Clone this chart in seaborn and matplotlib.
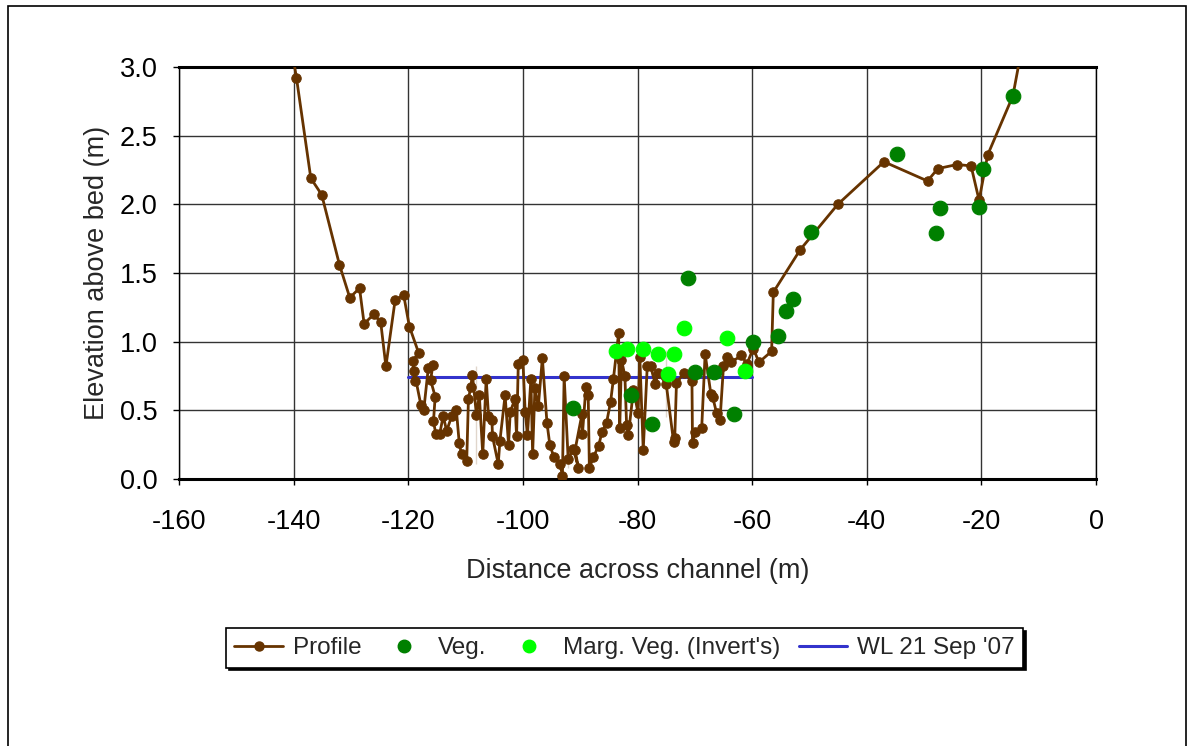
import pandas as pd
import matplotlib.pyplot as plt
import seaborn as sns
from matplotlib.lines import Line2D
from matplotlib.patches import Rectangle

# Cross-section profile (survey order)
profile_x = [-141.0, -139.5, -137.0, -135.1, -132.0, -130.2, -128.5, -127.7, -126.0, -124.8,
             -123.9, -122.3, -120.8, -119.8, -118.2, -119.2, -118.9, -119.0, -117.8, -117.3,
             -116.5, -115.7, -116.1, -115.3, -115.6, -115.2, -114.5, -113.9, -113.3, -112.4,
             -111.6, -111.1, -110.7, -109.8, -109.5, -109.1, -108.8, -108.1, -107.6, -108.1,
             -107.0, -106.4, -106.0, -105.4, -105.3, -104.3, -104.0, -103.1, -102.5, -102.2,
             -101.4, -101.1, -100.8, -100.0, -99.6, -99.2, -98.6, -98.3, -97.9, -97.3,
             -96.6, -95.8, -95.3, -94.6, -93.5, -93.1, -92.8, -92.1, -92.1, -91.2,
             -90.3, -90.9, -89.7, -89.6, -89.0, -88.6, -88.4, -87.7, -86.8, -86.2,
             -85.4, -84.7, -84.2, -83.3, -83.1, -82.8, -82.2, -81.9, -81.6, -80.7,
             -79.9, -79.6, -79.0, -78.3, -77.7, -76.9, -76.4, -75.0, -75.0, -73.7,
             -73.5, -73.2, -71.9, -70.5, -70.4, -70.0, -68.8, -68.2, -67.2, -66.9,
             -66.2, -65.6, -65.0, -64.4, -63.6, -61.9, -60.9, -59.8, -58.8, -56.6,
             -56.3, -51.6, -45.05, -37.0, -29.4, -27.6, -24.25, -21.8, -20.4, -18.9,
             -14.5, -12.0]
profile_y = [3.30, 2.92, 2.19, 2.07, 1.56, 1.32, 1.39, 1.13, 1.20, 1.14,
             0.82, 1.30, 1.34, 1.11, 0.92, 0.86, 0.71, 0.79, 0.54, 0.50,
             0.81, 0.83, 0.72, 0.60, 0.42, 0.33, 0.33, 0.46, 0.35, 0.46,
             0.50, 0.26, 0.18, 0.13, 0.58, 0.67, 0.76, 0.82, 0.61, 0.11,
             0.18, 0.73, 0.46, 0.43, 0.31, 0.11, 0.28, 0.61, 0.25, 0.49,
             0.58, 0.31, 0.84, 0.87, 0.49, 0.32, 0.73, 0.18, 0.66, 0.53,
             0.88, 0.41, 0.25, 0.16, 0.11, 0.02, 0.75, 0.21, 0.08, 0.22,
             0.08, 0.21, 0.47, 0.33, 0.67, 0.61, 0.08, 0.16, 0.24, 0.34,
             0.41, 0.56, 0.73, 1.06, 0.37, 0.87, 0.75, 0.39, 0.32, 0.65,
             0.48, 0.89, 0.21, 0.82, 0.82, 0.69, 0.77, 0.94, 0.45, 0.27,
             0.30, 0.70, 0.77, 0.71, 0.26, 0.34, 0.37, 0.91, 0.62, 0.60,
             0.48, 0.43, 0.82, 0.89, 0.85, 0.90, 0.84, 0.95, 0.85, 0.93,
             1.36, 1.67, 2.00, 2.31, 2.17, 2.26, 2.29, 2.28, 2.03, 2.36,
             2.79, 3.35]

# Vegetation
veg_x = [-91.2, -81.2, -77.5, -71.25, -70.0, -66.6, -63.2, -59.8, -55.4, -54.1,
         -52.8, -49.8, -34.8, -27.9, -27.3, -20.4, -19.8, -14.4]
veg_y = [0.52, 0.61, 0.40, 1.46, 0.78, 0.78, 0.47, 0.995, 1.04, 1.22,
         1.31, 1.80, 2.37, 1.79, 1.97, 1.98, 2.255, 2.79]

# Marginal vegetation (inverts)
marg_x = [-83.75, -81.8, -79.1, -76.5, -73.7, -74.7, -71.9, -64.4, -61.3]
marg_y = [0.934, 0.947, 0.947, 0.908, 0.91, 0.765, 1.10, 1.03, 0.79]

# Water level
wl_x = [-120, -60]
wl_y = [0.746, 0.746]

brown = '#663300'
dkgreen = '#008000'
ltgreen = '#00FF00'
blue = '#3333CC'

sns.set_style('white')
plt.rcParams['font.family'] = ['Liberation Sans', 'DejaVu Sans']

fig = plt.figure(figsize=(11.9, 7.46), dpi=100)
ax = fig.add_axes([179 / 1190, 1 - 479 / 746, (1096 - 179) / 1190, (479 - 67) / 746])

profile_df = pd.DataFrame({'x': profile_x, 'y': profile_y})
veg_df = pd.DataFrame({'x': veg_x, 'y': veg_y})
marg_df = pd.DataFrame({'x': marg_x, 'y': marg_y})
wl_df = pd.DataFrame({'x': wl_x, 'y': wl_y})

sns.lineplot(data=wl_df, x='x', y='y', sort=False, color=blue, linewidth=2.2, ax=ax, zorder=3)
sns.lineplot(data=profile_df, x='x', y='y', sort=False, color=brown, linewidth=2.0,
             marker='o', markersize=6.8, markeredgecolor=brown, ax=ax, zorder=4)
sns.scatterplot(data=veg_df, x='x', y='y', color=dkgreen, s=110, edgecolor=dkgreen, ax=ax, zorder=5)
sns.scatterplot(data=marg_df, x='x', y='y', color=ltgreen, s=110, edgecolor=ltgreen, ax=ax, zorder=5)

ax.set_xlim(-160, 0)
ax.set_ylim(0, 3)
ax.set_xticks(range(-160, 1, 20))
ax.set_yticks([0, 0.5, 1.0, 1.5, 2.0, 2.5, 3.0])
ax.set_yticklabels(['0.0', '0.5', '1.0', '1.5', '2.0', '2.5', '3.0'])
ax.set_xticklabels(['-160', '-140', '-120', '-100', '-80', '-60', '-40', '-20', '0'])
ax.grid(True, color='#333333', linewidth=1)
ax.set_axisbelow(True)
for side, sp in ax.spines.items():
    sp.set_color('black')
    sp.set_linewidth(2.2 if side in ('top', 'bottom') else 1.0)
ax.tick_params(axis='both', direction='out', length=4.5, width=1, colors='black',
               labelsize=19.5, left=True, bottom=True)
ax.tick_params(axis='x', pad=17)
ax.tick_params(axis='y', pad=11)
ax.set_xlabel('Distance across channel (m)', fontsize=19.5, labelpad=17)
ax.set_ylabel('Elevation above bed (m)', fontsize=19.5, labelpad=7)

handles = [
    Line2D([], [], color=brown, linewidth=2.0, marker='o', markersize=6.5),
    Line2D([], [], color=dkgreen, linestyle='', marker='o', markersize=9),
    Line2D([], [], color=ltgreen, linestyle='', marker='o', markersize=9),
    Line2D([], [], color=blue, linewidth=2.2),
]
labels = ['Profile', 'Veg.', "Marg. Veg. (Invert's)", "WL 21 Sep '07"]
leg = fig.legend(handles, labels, loc='center', bbox_to_anchor=(624.5 / 1190, 1 - 648 / 746),
                 ncol=4, fontsize=17.5, frameon=True, fancybox=False, edgecolor='black',
                 handlelength=2.0, columnspacing=0.75, handletextpad=0.4, borderpad=0.35,
                 shadow={'color': 'black', 'alpha': 1})
leg.get_frame().set_linewidth(1.2)

# outer chart border
fig.patches.append(Rectangle((8 / 1190, -0.02), (1186 - 8) / 1190, 1.02 - 6 / 746,
                             transform=fig.transFigure, fill=False, edgecolor='black', linewidth=1.2))

fig.savefig('out.png', dpi=100)
